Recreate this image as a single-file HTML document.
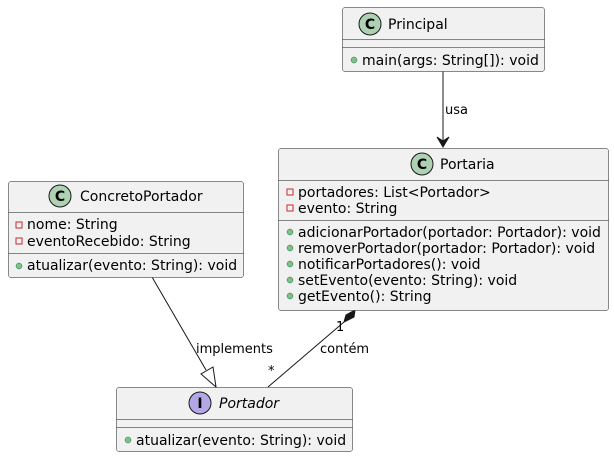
<!DOCTYPE html>
<html><head><meta charset="utf-8"><style>
html,body{margin:0;padding:0;background:#fff;}
svg{display:block;font-family:"DejaVu Sans","Liberation Sans",sans-serif;}
</style></head><body>
<svg width="614" height="457" viewBox="0 0 614 457" xmlns="http://www.w3.org/2000/svg">
<g stroke="#181818" stroke-width="1" fill="none">
<line x1="443" y1="71" x2="443" y2="146"/>
<polygon points="437,137 443,147 449,137 443,141" fill="#181818"/>
<line x1="152" y1="277" x2="206" y2="370"/>
<polygon points="216,387 201,374 213,367" fill="#fff"/>
<line x1="344" y1="322" x2="268" y2="387"/>
<polygon points="355,310 354,317 344,322 346,315" fill="#181818"/>
</g>
<g font-size="13" fill="#000">
<text x="445" y="114">usa</text>
<text x="196" y="353">implements</text>
<text x="320" y="353">contém</text>
<text x="336" y="331">1</text>
<text x="268" y="375">*</text>
</g>

<!-- Principal -->
<rect x="342.5" y="7.5" width="202" height="64" rx="2.5" fill="#f1f1f1" stroke="#181818" stroke-width="0.5"/>
<line x1="342.5" y1="39.5" x2="544.5" y2="39.5" stroke="#181818" stroke-width="0.5"/>
<line x1="342.5" y1="47.5" x2="544.5" y2="47.5" stroke="#181818" stroke-width="0.5"/>
<circle cx="370" cy="24" r="11" fill="#add1b2" stroke="#181818" stroke-width="1"/>
<text x="370" y="29" font-size="14" font-weight="bold" text-anchor="middle">C</text>
<text x="388" y="29" font-size="14">Principal</text>
<circle cx="354" cy="60" r="3" fill="#84be84" stroke="#038048" stroke-width="0.5"/>
<text x="362" y="65" font-size="14">main(args: String[]): void</text>

<!-- Portaria -->
<rect x="278.5" y="148.5" width="330" height="162" rx="2.5" fill="#f1f1f1" stroke="#181818" stroke-width="0.5"/>
<line x1="278.5" y1="180.5" x2="608.5" y2="180.5" stroke="#181818" stroke-width="0.5"/>
<line x1="278.5" y1="220.5" x2="608.5" y2="220.5" stroke="#181818" stroke-width="0.5"/>
<circle cx="422" cy="164" r="11" fill="#add1b2" stroke="#181818" stroke-width="1"/>
<text x="422" y="169" font-size="14" font-weight="bold" text-anchor="middle">C</text>
<text x="440" y="169" font-size="14">Portaria</text>
<g font-size="14">
<rect x="287" y="189" width="6" height="6" fill="none" stroke="#c82930" stroke-width="1"/>
<text x="298" y="197">portadores: List&lt;Portador&gt;</text>
<rect x="287" y="205" width="6" height="6" fill="none" stroke="#c82930" stroke-width="1"/>
<text x="298" y="213">evento: String</text>
<g fill="#84be84" stroke="#038048" stroke-width="0.5">
<circle cx="290" cy="232" r="3"/><circle cx="290" cy="248" r="3"/><circle cx="290" cy="264" r="3"/><circle cx="290" cy="280" r="3"/><circle cx="290" cy="296" r="3"/>
</g>
<text x="298" y="237">adicionarPortador(portador: Portador): void</text>
<text x="298" y="253">removerPortador(portador: Portador): void</text>
<text x="298" y="269">notificarPortadores(): void</text>
<text x="298" y="285">setEvento(evento: String): void</text>
<text x="298" y="301">getEvento(): String</text>
</g>

<!-- ConcretoPortador -->
<rect x="8.5" y="181.5" width="235" height="96" rx="2.5" fill="#f1f1f1" stroke="#181818" stroke-width="0.5"/>
<line x1="8.5" y1="212.5" x2="243.5" y2="212.5" stroke="#181818" stroke-width="0.5"/>
<line x1="8.5" y1="253.5" x2="243.5" y2="253.5" stroke="#181818" stroke-width="0.5"/>
<circle cx="60" cy="196" r="11" fill="#add1b2" stroke="#181818" stroke-width="1"/>
<text x="60" y="201" font-size="14" font-weight="bold" text-anchor="middle">C</text>
<text x="80" y="201" font-size="14">ConcretoPortador</text>
<g font-size="14">
<rect x="16" y="222" width="6" height="6" fill="none" stroke="#c82930" stroke-width="1"/>
<text x="27" y="229">nome: String</text>
<rect x="16" y="238" width="6" height="6" fill="none" stroke="#c82930" stroke-width="1"/>
<text x="27" y="246">eventoRecebido: String</text>
<circle cx="19" cy="266" r="3" fill="#84be84" stroke="#038048" stroke-width="0.5"/>
<text x="27" y="270">atualizar(evento: String): void</text>
</g>

<!-- Portador -->
<rect x="116.5" y="387.5" width="236" height="64" rx="2.5" fill="#f1f1f1" stroke="#181818" stroke-width="0.5"/>
<line x1="116.5" y1="419.5" x2="352.5" y2="419.5" stroke="#181818" stroke-width="0.5"/>
<line x1="116.5" y1="427.5" x2="352.5" y2="427.5" stroke="#181818" stroke-width="0.5"/>
<circle cx="200" cy="403" r="11" fill="#b4a7e5" stroke="#181818" stroke-width="1"/>
<text x="200" y="408" font-size="14" font-weight="bold" text-anchor="middle">I</text>
<text x="219" y="408" font-size="14" font-style="italic">Portador</text>
<circle cx="128" cy="440" r="3" fill="#84be84" stroke="#038048" stroke-width="0.5"/>
<text x="136" y="445" font-size="14">atualizar(evento: String): void</text>
</svg>
</body></html>
